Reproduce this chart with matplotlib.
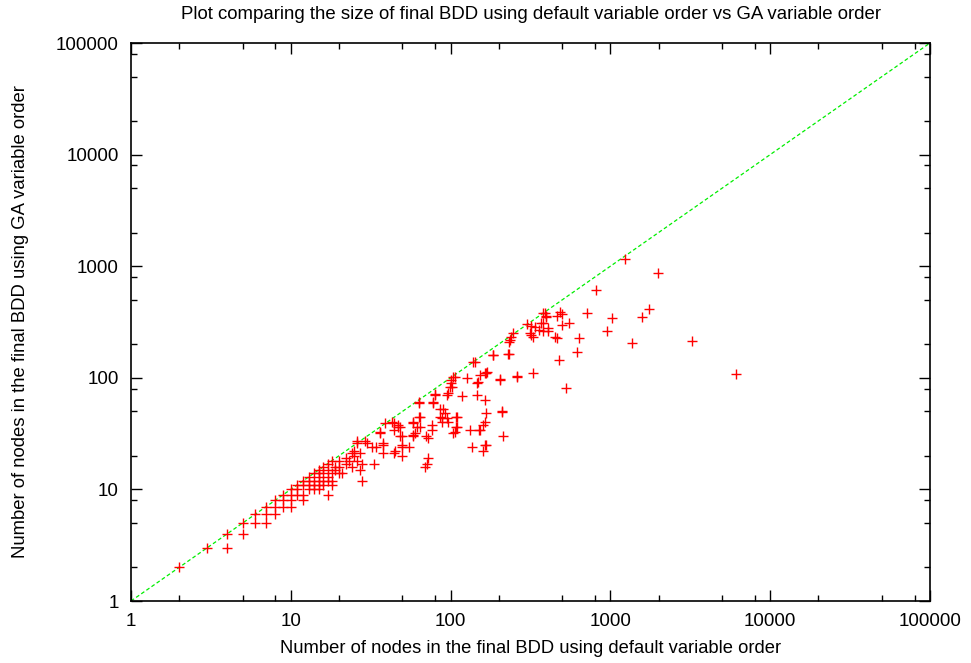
import matplotlib
matplotlib.use("Agg")
import matplotlib.pyplot as plt
from matplotlib.ticker import LogLocator, NullFormatter, FixedLocator

# Node counts: default variable order (x) vs GA variable order (y)
points = [
    (2, 2), (3, 3), (4, 4), (4, 3), (5, 5), (5, 4), (6, 6), (6, 5), (7, 7), (7, 6),
    (7, 5), (8, 8), (8, 7), (8, 6), (9, 9), (9, 8), (9, 7), (10, 10), (10, 9), (10, 8),
    (10, 7), (11, 11), (11, 10), (11, 9), (12, 12), (12, 11), (12, 9), (12, 8), (13, 13), (13, 12),
    (13, 11), (13, 10), (14, 14), (14, 12), (14, 11), (14, 10), (15, 15), (15, 14), (15, 13), (15, 12),
    (15, 11), (15, 10), (16, 16), (16, 14), (16, 12), (16, 11), (17, 17), (17, 15), (17, 13), (17, 12),
    (17, 9), (18, 18), (18, 14), (18, 12), (18, 11), (19, 15), (19, 16), (20, 18), (20, 16), (20, 14),
    (21, 14), (22, 17), (22, 19), (23, 18), (24, 16), (24, 21), (25, 22), (25, 20), (26, 27), (26, 26),
    (26, 18), (27, 21), (27, 15), (28, 12), (28, 17), (29, 27), (30, 26), (32, 24), (33, 17), (34, 24),
    (36, 33), (36, 32), (38, 26), (38, 25), (38, 21), (39, 39), (43, 40), (44, 39), (44, 34), (44, 21),
    (45, 22), (47, 36), (47, 38), (48, 30), (48, 36), (50, 25), (50, 24), (50, 30), (50, 20), (55, 24),
    (58, 39), (58, 40), (58, 30), (58, 31), (60, 32), (62, 36), (63, 59), (63, 61), (63, 45), (64, 45),
    (64, 36), (69, 16), (70, 30), (71, 17), (72, 29), (72, 19), (76, 34), (76, 38), (78, 59), (78, 61),
    (80, 70), (80, 72), (86, 45), (86, 52), (88, 40), (88, 44), (90, 52), (92, 48), (95, 44), (95, 70),
    (96, 40), (97, 73), (99, 83), (100, 90), (101, 96), (102, 83), (103, 101), (104, 32), (106, 33), (107, 102),
    (108, 45), (108, 36), (110, 36), (110, 45), (118, 68), (126, 99), (132, 34), (136, 24), (138, 138), (142, 138),
    (146, 70), (146, 90), (148, 91), (150, 34), (152, 106), (153, 34), (160, 38), (160, 22), (163, 63), (163, 40),
    (163, 110), (163, 25), (167, 110), (167, 48), (167, 25), (168, 112), (183, 160), (185, 160), (203, 96), (205, 97),
    (209, 49), (209, 50), (214, 30), (228, 165), (232, 165), (232, 210), (234, 217), (240, 230), (245, 250), (260, 102),
    (260, 103), (300, 305), (314, 252), (320, 290), (320, 240), (327, 110), (330, 230), (335, 285), (360, 267), (370, 310),
    (380, 380), (380, 310), (380, 260), (390, 380), (398, 357), (398, 350), (406, 278), (406, 260), (450, 230), (460, 225),
    (460, 355), (480, 145), (485, 390), (500, 370), (500, 300), (530, 81), (550, 310), (620, 170), (640, 225), (710, 380),
    (810, 610), (950, 265), (1020, 340), (1230, 1170), (1370, 205), (1570, 350), (1750, 415), (1980, 870), (3230, 215),
    (6100, 108),
]
default_order = [p[0] for p in points]
ga_order = [p[1] for p in points]

diag = [1, 100000]

plt.rcParams['font.family'] = ['Liberation Sans', 'DejaVu Sans']

fig = plt.figure(figsize=(9.71, 6.63), dpi=100)
ax = fig.add_axes([131/971, 62/663, (930-131)/971, (601-43)/663])

ax.plot(diag, diag, color='#00ee00', linestyle=(0, (3, 2)), linewidth=0.9, zorder=1)
ax.plot(default_order, ga_order, linestyle='none', marker='+', color='#ff0000',
        markersize=7, markeredgewidth=1.0, zorder=2)

ax.set_xscale('log')
ax.set_yscale('log')
ax.set_xlim(1, 100000)
ax.set_ylim(1, 100000)

major = [1, 10, 100, 1000, 10000, 100000]
ax.xaxis.set_major_locator(FixedLocator(major))
ax.yaxis.set_major_locator(FixedLocator(major))
ax.set_xticklabels([str(v) for v in major])
ax.set_yticklabels([str(v) for v in major])
ax.xaxis.set_minor_locator(LogLocator(base=10, subs=(2, 5, 8)))
ax.yaxis.set_minor_locator(LogLocator(base=10, subs=(2, 5, 8)))
ax.xaxis.set_minor_formatter(NullFormatter())
ax.yaxis.set_minor_formatter(NullFormatter())

ax.tick_params(which='both', direction='in', top=True, right=True, labelsize=13.5, width=1.0)
ax.tick_params(which='major', length=8, pad=9)
ax.tick_params(which='minor', length=4)
for s in ax.spines.values():
    s.set_linewidth(1.2)

ax.set_title('Plot comparing the size of final BDD using default variable order vs GA variable order',
             fontsize=13.4, pad=17)
ax.set_xlabel('Number of nodes in the final BDD using default variable order', fontsize=13.2, labelpad=7)
ax.set_ylabel('Number of nodes in the final BDD using GA variable order', fontsize=13.3, labelpad=19)

fig.savefig('out.png', dpi=100)
